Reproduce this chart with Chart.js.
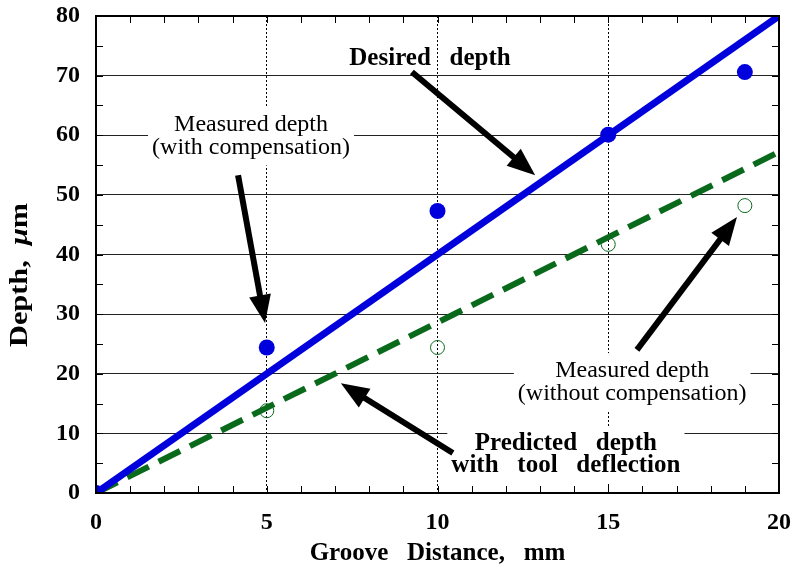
<!DOCTYPE html>
<html>
<head>
<meta charset="utf-8">
<script src="https://cdn.jsdelivr.net/npm/chart.js@4.4.1/dist/chart.umd.min.js"></script>
<style>
  html, body { margin: 0; padding: 0; background: #fff; }
</style>
</head>
<body>
<canvas id="groove-chart" width="791" height="570"></canvas>
<script>
// measured points (groove distance in mm, depth in um)
const grooveX = [0, 5, 10, 15, 19];
const depthWithComp = [0, 24.4, 47.3, 60.1, 70.6];
const depthWithoutComp = [0, 13.8, 24.4, 41.7, 48.2];

// reference lines
const lineX = [0, 20];
const desiredDepth = [0, 80];
const predictedDepth = [0, 57.2];

const xTickStep = 5;
const yTickStep = 10;
const xMinorStep = 1;
const yMinorStep = 5;

const serif = '"Liberation Serif", "Times New Roman", serif';
const blue = '#0000dc';
const green = '#0a6a1c';

// callouts, placed in data units
const noteLabels = [
    { lines: ['Desired   depth'], x: 9.78, y: 72.8, bold: true, box: false },
    { lines: ['Measured depth', '(with compensation)'], x: 4.54, y: 59.8, bold: false, box: true },
    { lines: ['Measured depth', '(without compensation)'], x: 15.7, y: 18.6, bold: false, box: true },
    { lines: ['Predicted   depth', 'with   tool   deflection'], x: 13.76, y: 6.5, bold: true, box: true }
];

const arrows = [
    { from: [9.25, 70.6], to: [12.86, 53.3] },
    { from: [4.16, 53.3], to: [4.95, 28.5] },
    { from: [10.45, 6.7], to: [7.17, 18.4] },
    { from: [15.84, 24.0], to: [18.77, 46.3] }
];

function toPoints(xs, ys) {
    return xs.map((x, i) => ({ x: x, y: ys[i] }));
}

function noPadding(s) {
    s.paddingTop = 0;
    s.paddingBottom = 0;
    s.paddingLeft = 0;
    s.paddingRight = 0;
}

function drawArrow(ctx, x1, y1, x2, y2) {
    const dx = x2 - x1, dy = y2 - y1;
    const len = Math.sqrt(dx * dx + dy * dy);
    const ux = dx / len, uy = dy / len;
    const headLen = 28, headHalf = 11;
    const bx = x2 - ux * headLen, by = y2 - uy * headLen;
    ctx.save();
    ctx.strokeStyle = '#000';
    ctx.fillStyle = '#000';
    ctx.lineWidth = 6;
    ctx.lineCap = 'butt';
    ctx.beginPath();
    ctx.moveTo(x1, y1);
    ctx.lineTo(bx + ux * 2, by + uy * 2);
    ctx.stroke();
    ctx.beginPath();
    ctx.moveTo(x2, y2);
    ctx.lineTo(bx - uy * headHalf, by + ux * headHalf);
    ctx.lineTo(bx + uy * headHalf, by - ux * headHalf);
    ctx.closePath();
    ctx.fill();
    ctx.restore();
}

const decorPlugin = {
    id: 'decor',
    beforeDatasetsDraw(chart) {
        const ctx = chart.ctx;
        const xs = chart.scales.x, ys = chart.scales.y;
        ctx.save();
        noteLabels.forEach(note => {
            ctx.font = note.bold ? 'bold 25px ' + serif : '24px ' + serif;
            const lh = note.bold ? 22 : 23;
            const cx = xs.getPixelForValue(note.x);
            const cy = ys.getPixelForValue(note.y);
            const top = cy - (note.lines.length * lh) / 2;
            if (note.box) {
                const w = Math.max(...note.lines.map(l => ctx.measureText(l).width));
                ctx.fillStyle = '#fff';
                ctx.fillRect(cx - w / 2 - 4, top - 6, w + 8, note.lines.length * lh + 12);
            }
            ctx.fillStyle = '#000';
            ctx.textAlign = 'center';
            ctx.textBaseline = 'middle';
            note.lines.forEach((l, i) => ctx.fillText(l, cx, top + lh * (i + 0.5)));
        });
        ctx.restore();
    },
    afterDatasetsDraw(chart) {
        const ctx = chart.ctx;
        const xs = chart.scales.x, ys = chart.scales.y;
        const area = chart.chartArea;

        arrows.forEach(a => {
            drawArrow(ctx,
                xs.getPixelForValue(a.from[0]), ys.getPixelForValue(a.from[1]),
                xs.getPixelForValue(a.to[0]), ys.getPixelForValue(a.to[1]));
        });

        // minor ticks pointing inwards on all four sides
        ctx.save();
        ctx.strokeStyle = '#000';
        ctx.lineWidth = 1;
        ctx.beginPath();
        for (let v = xs.min + xMinorStep; v < xs.max; v += xMinorStep) {
            const px = Math.round(xs.getPixelForValue(v)) + 0.5;
            ctx.moveTo(px, area.bottom); ctx.lineTo(px, area.bottom - 7);
            ctx.moveTo(px, area.top); ctx.lineTo(px, area.top + 7);
        }
        for (let v = ys.min + yMinorStep; v < ys.max; v += yMinorStep) {
            const py = Math.round(ys.getPixelForValue(v)) + 0.5;
            ctx.moveTo(area.left, py); ctx.lineTo(area.left + 7, py);
            ctx.moveTo(area.right, py); ctx.lineTo(area.right - 7, py);
        }
        ctx.stroke();
        ctx.lineWidth = 2;
        ctx.strokeRect(area.left, area.top, area.right - area.left, area.bottom - area.top);
        ctx.restore();
    },
    afterDraw(chart) {
        // y title with italic mu
        const ctx = chart.ctx;
        const parts = [
            { t: 'Depth,  ', f: 'bold 25px ' + serif },
            { t: '\u03bc', f: 'italic bold 25px ' + serif },
            { t: 'm', f: 'bold 25px ' + serif }
        ];
        ctx.save();
        let total = 0;
        parts.forEach(p => { ctx.font = p.f; p.w = ctx.measureText(p.t).width; total += p.w; });
        const stretch = 144 / total;
        ctx.translate(21, 275);
        ctx.rotate(-Math.PI / 2);
        ctx.scale(stretch, 1);
        ctx.fillStyle = '#000';
        ctx.textBaseline = 'middle';
        ctx.textAlign = 'left';
        let x = -total / 2;
        parts.forEach(p => { ctx.font = p.f; ctx.fillText(p.t, x, 0); x += p.w; });
        ctx.restore();
    }
};

const canvas = document.getElementById('groove-chart');

const grooveChart = new Chart(canvas, {
    type: 'scatter',
    data: {
        datasets: [
            {
                label: 'Measured depth (with compensation)',
                data: toPoints(grooveX, depthWithComp),
                pointRadius: 8,
                pointBackgroundColor: blue,
                pointBorderWidth: 0,
                showLine: false
            },
            {
                label: 'Desired depth',
                type: 'line',
                data: toPoints(lineX, desiredDepth),
                borderColor: blue,
                borderWidth: 7,
                pointRadius: 0,
                fill: false
            },
            {
                label: 'Measured depth (without compensation)',
                data: toPoints(grooveX, depthWithoutComp),
                pointRadius: 7,
                pointBackgroundColor: 'rgba(255,255,255,0)',
                pointBorderColor: green,
                pointBorderWidth: 1,
                showLine: false
            },
            {
                label: 'Predicted depth with tool deflection',
                type: 'line',
                data: toPoints(lineX, predictedDepth),
                borderColor: green,
                borderWidth: 6,
                borderDash: [24, 11],
                pointRadius: 0,
                fill: false
            }
        ]
    },
    options: {
        responsive: false,
        animation: false,
        devicePixelRatio: 1,
        layout: { padding: { top: 16, right: 12, left: 0, bottom: 0 } },
        plugins: {
            legend: { display: false },
            tooltip: { enabled: false }
        },
        scales: {
            x: {
                type: 'linear',
                min: 0,
                max: 20,
                afterFit: s => { s.height = 77; noPadding(s); },
                ticks: {
                    stepSize: xTickStep,
                    color: '#000',
                    padding: 15,
                    maxRotation: 0,
                    font: { family: serif, size: 24, weight: 'bold' }
                },
                grid: {
                    color: c => (c.tick && (c.tick.value === 0 || c.tick.value === 20)) ? 'rgba(0,0,0,0)' : '#000',
                    lineWidth: 1,
                    drawTicks: false
                },
                border: { display: false, dash: [2, 2] },
                title: {
                    display: true,
                    text: 'Groove   Distance,   mm',
                    color: '#000',
                    font: { family: serif, size: 25, weight: 'bold' },
                    padding: { top: 0, bottom: 1 }
                }
            },
            y: {
                type: 'linear',
                min: 0,
                max: 80,
                afterFit: s => { s.width = 96; noPadding(s); },
                ticks: {
                    stepSize: yTickStep,
                    color: '#000',
                    padding: 16,
                    font: { family: serif, size: 24, weight: 'bold' }
                },
                grid: {
                    color: c => (c.tick && (c.tick.value === 0 || c.tick.value === 80)) ? 'rgba(0,0,0,0)' : '#222',
                    lineWidth: 1,
                    drawTicks: false
                },
                border: { display: false }
            }
        }
    },
    plugins: [decorPlugin]
});
</script>
</body>
</html>
